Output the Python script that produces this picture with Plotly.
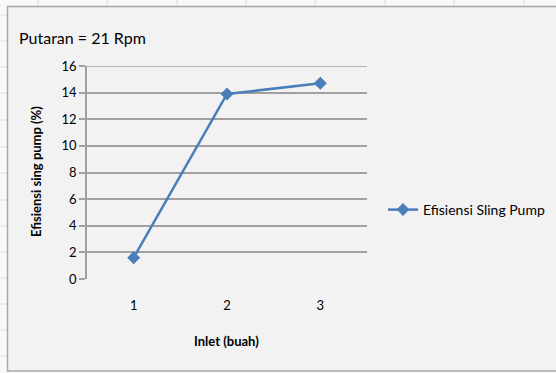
import plotly.graph_objects as go

# Data
inlet = ["1", "2", "3"]
efisiensi = [1.6, 13.9, 14.7]
y_ticks = [0, 2, 4, 6, 8, 10, 12, 14, 16]

W, H = 556, 373
L, R, T, B = 87, 367, 66, 279  # plot area in pixels
pw, ph = R - L, B - T

def px(x):
    return (x - L) / pw

def py(y):
    return (B - y) / ph

FONT = "Lato, 'Open Sans', sans-serif"
BLUE = "#4a7ebb"
GRID = "#a0a0a0"

fig = go.Figure()
fig.add_trace(go.Scatter(
    x=inlet, y=efisiensi, mode="lines+markers",
    name="Efisiensi Sling Pump",
    line=dict(color=BLUE, width=2.5),
    marker=dict(symbol="diamond", size=10, color=BLUE),
))

shapes = []
# spreadsheet cell lines around the chart frame
for x in [38, 107, 177, 246, 315, 385, 454, 524]:
    shapes.append(dict(type="line", xref="paper", yref="paper",
                       x0=px(x), x1=px(x), y0=py(0), y1=py(6),
                       line=dict(color="#dcdce6", width=1), layer="below"))
for y in [15, 41, 67, 93, 120, 147, 173, 200, 226, 252, 278, 304, 330, 356]:
    shapes.append(dict(type="line", xref="paper", yref="paper",
                       x0=px(0), x1=px(7), y0=py(y), y1=py(y),
                       line=dict(color="#dcdce6", width=1), layer="below"))
# chart frame
shapes.append(dict(type="rect", xref="paper", yref="paper",
                   x0=px(7.5), x1=px(560), y0=py(371), y1=py(6.5),
                   fillcolor="#f2f2f2", line=dict(color="#a6a6a6", width=1.5),
                   layer="below"))
# top gridline at 16
shapes.append(dict(type="line", xref="paper", yref="y",
                   x0=0, x1=1, y0=16, y1=16,
                   line=dict(color=GRID, width=1.5), layer="below"))

fig.update_layout(
    width=W, height=H,
    margin=dict(l=L, r=W - R, t=T, b=H - B, autoexpand=False),
    paper_bgcolor="#f8f8f8",
    plot_bgcolor="rgba(0,0,0,0)",
    font=dict(family=FONT, size=13, color="#000000"),
    shapes=shapes,
    showlegend=True,
    legend=dict(x=px(383), y=py(210), xanchor="left", yanchor="middle",
                bgcolor="rgba(0,0,0,0)", font=dict(size=14, family=FONT),
                itemwidth=30, tracegroupgap=0),
    annotations=[
        dict(text="Putaran = 21 Rpm", xref="paper", yref="paper",
             x=px(17), y=py(37), xanchor="left", yanchor="middle",
             showarrow=False, font=dict(size=16, family=FONT)),
        dict(text="<b>Efisiensi sing pump (%)</b>", xref="paper", yref="paper",
             x=px(36), y=py(172), xanchor="center", yanchor="middle",
             textangle=-90, showarrow=False, font=dict(size=13, family=FONT)),
        dict(text="<b>Inlet (buah)</b>", xref="paper", yref="paper",
             x=px(226), y=py(341), xanchor="center", yanchor="middle",
             showarrow=False, font=dict(size=13, family=FONT)),
    ],
)

fig.update_xaxes(
    type="category", range=[-0.5, 2.5],
    showgrid=False, zeroline=False, showline=False,
    ticks="", ticklabelstandoff=17,
    tickfont=dict(size=13, family=FONT),
)
fig.update_yaxes(
    range=[0, 16], tickvals=y_ticks,
    showgrid=True, gridcolor=GRID, gridwidth=1.5,
    zeroline=False, showline=True, linecolor=GRID, linewidth=1.5,
    ticks="outside", ticklen=6, tickcolor=GRID, tickwidth=1.5,
    tickfont=dict(size=13, family=FONT),
)

fig.write_html("out.html")
